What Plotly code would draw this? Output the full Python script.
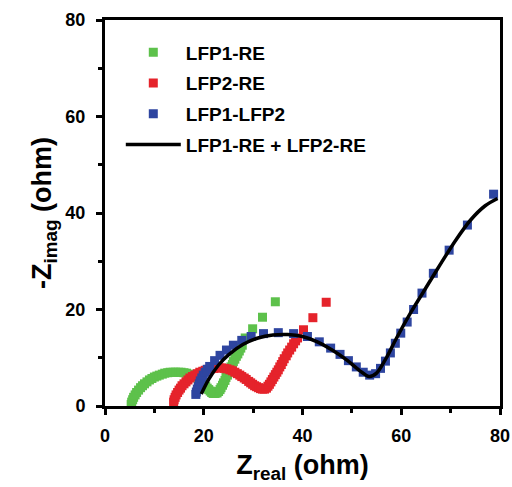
import plotly.graph_objects as go

# Nyquist data (ohm): real part and negative imaginary part
lfp1_re_x = [5.3, 5.4, 5.6, 5.8, 6.1, 6.4, 6.8, 7.2, 7.6, 8.0,
             8.5, 9.0, 9.5, 10.0, 10.5, 11.0, 11.6, 12.1, 12.7, 13.2,
             13.8, 14.3, 14.9, 15.4, 16.0, 16.5, 17.0, 17.5, 18.0, 18.5,
             18.9, 19.3, 19.7, 20.1, 20.4, 20.7, 21.0, 21.3, 21.6, 21.9,
             22.3, 22.7, 23.0, 23.3, 23.5, 23.8, 24.0, 24.3, 24.5, 24.8,
             25.0, 25.3, 25.5, 25.8, 26.0, 26.3, 26.6, 26.9, 27.2, 27.5,
             27.8, 28.4, 29.9, 31.9, 34.5]
lfp1_re_y = [0.3, 0.8, 1.3, 1.8, 2.3, 2.8, 3.3, 3.8, 4.2, 4.6,
             5.0, 5.4, 5.7, 6.0, 6.2, 6.4, 6.6, 6.8, 6.9, 7.0,
             7.0, 7.0, 7.0, 7.0, 6.9, 6.8, 6.6, 6.4, 6.2, 5.9,
             5.6, 5.3, 4.9, 4.5, 4.1, 3.7, 3.4, 3.1, 2.8, 2.6,
             2.6, 2.7, 3.0, 3.4, 3.8, 4.3, 4.8, 5.3, 5.9, 6.4,
             7.0, 7.5, 8.1, 8.6, 9.2, 9.7, 10.3, 10.8, 11.4, 12.0,
             12.6, 14.1, 16.0, 18.4, 21.6]

lfp2_re_x = [13.9, 14.0, 14.2, 14.4, 14.7, 15.0, 15.3, 15.6, 16.0, 16.4,
             16.8, 17.2, 17.7, 18.2, 18.7, 19.2, 19.8, 20.3, 20.9, 21.4,
             22.0, 22.5, 23.1, 23.6, 24.2, 24.7, 25.3, 25.8, 26.3, 26.8,
             27.3, 27.7, 28.2, 28.6, 29.1, 29.5, 29.9, 30.3, 30.7, 31.1,
             31.5, 31.9, 32.3, 32.7, 33.0, 33.3, 33.6, 33.9, 34.2, 34.5,
             34.8, 35.1, 35.4, 35.7, 36.0, 36.3, 36.7, 37.0, 37.4, 37.8,
             38.2, 38.6, 39.0, 40.2, 42.1, 44.8]
lfp2_re_y = [0.8, 1.3, 1.8, 2.3, 2.8, 3.3, 3.7, 4.2, 4.6, 5.0,
             5.4, 5.8, 6.1, 6.4, 6.7, 7.0, 7.2, 7.4, 7.6, 7.7,
             7.8, 7.9, 7.9, 7.9, 7.8, 7.7, 7.5, 7.3, 7.0, 6.7,
             6.4, 6.1, 5.8, 5.5, 5.1, 4.8, 4.5, 4.2, 4.0, 3.8,
             3.6, 3.5, 3.5, 3.7, 4.1, 4.5, 5.0, 5.5, 6.0, 6.5,
             7.0, 7.5, 8.1, 8.6, 9.2, 9.8, 10.4, 11.0, 11.6, 12.2,
             12.9, 13.5, 14.1, 15.8, 18.3, 21.5]

lfp1_lfp2_x = [18.4, 18.5, 18.7, 18.9, 19.1, 19.3, 19.6, 19.9, 20.3, 20.7, 21.2,
               22.2, 23.3, 24.6, 26.0, 27.7, 29.6, 32.1, 35.1, 38.2, 41.0,
               43.4, 45.7, 47.6, 49.3, 50.9, 52.3, 53.6, 54.8, 55.8, 56.8,
               57.8, 58.8, 59.9, 61.2, 62.5, 64.2, 66.5, 69.7, 73.4, 78.7]
lfp1_lfp2_y = [2.4, 2.9, 3.5, 4.0, 4.6, 5.2, 5.8, 6.4, 7.0, 7.6, 8.2,
               9.4, 10.5, 11.6, 12.6, 13.6, 14.4, 15.0, 15.2, 15.0, 14.4,
               13.3, 12.0, 10.7, 9.4, 8.1, 7.0, 6.4, 6.7, 7.8, 9.3,
               11.0, 13.0, 15.1, 17.4, 20.0, 23.4, 27.5, 32.3, 37.5, 43.9]

sum_x = [19.5, 21.0, 23.0, 25.0, 28.0, 31.0, 34.0, 37.0, 40.0, 43.0, 46.0, 49.0, 51.5,
         53.5, 55.0, 57.0, 59.0, 62.0, 65.0, 68.0, 71.0, 74.0, 77.0, 79.5]
sum_y = [2.5, 5.5, 8.5, 10.6, 12.8, 14.1, 14.7, 14.8, 14.4, 13.3, 11.6, 9.5, 7.4,
         6.1, 6.8, 10.0, 14.0, 19.5, 24.5, 29.5, 34.3, 38.5, 41.5, 43.0]

FONT = "Liberation Sans, Arial, sans-serif"

fig = go.Figure()

for name, xs, ys, color in [
    ("LFP1-RE", lfp1_re_x, lfp1_re_y, "#5DC14B"),
    ("LFP2-RE", lfp2_re_x, lfp2_re_y, "#E5232B"),
    ("LFP1-LFP2", lfp1_lfp2_x, lfp1_lfp2_y, "#2E45A0"),
]:
    fig.add_trace(go.Scatter(
        x=xs, y=ys, mode="markers", name=name, legendgroup=name,
        marker=dict(symbol="square", size=9, color=color, line=dict(width=0)),
    ))

fig.add_trace(go.Scatter(
    x=sum_x, y=sum_y, mode="lines", name="LFP1-RE + LFP2-RE", legendgroup="sum",
    line=dict(color="black", width=3.5, shape="spline", smoothing=0.8),
))

axis_common = dict(
    range=[0, 80], dtick=20, showgrid=False, zeroline=False,
    showline=True, linecolor="black", linewidth=3, mirror=True,
    ticks="outside", ticklen=6, tickwidth=3, tickcolor="black",
    minor=dict(ticks="outside", ticklen=4, tickwidth=3, tickcolor="black", dtick=10),
    tickfont=dict(family=FONT, size=18, color="black", weight="bold"),
    automargin=False,
)

fig.update_xaxes(**axis_common, ticklabelstandoff=5,
                 title=dict(text="Z<sub>real</sub> (ohm)", standoff=11,
                            font=dict(family=FONT, size=27, color="black", weight="bold")))
fig.update_yaxes(**axis_common, ticklabelstandoff=7,
                 title=dict(text="-Z<sub>imag</sub> (ohm)", standoff=6,
                            font=dict(family=FONT, size=27, color="black", weight="bold")))

fig.update_layout(
    width=512, height=487,
    margin=dict(l=105, r=12, t=20, b=81),
    paper_bgcolor="white", plot_bgcolor="white",
    showlegend=True,
    legend=dict(
        x=0.04, y=0.965, xanchor="left", yanchor="top",
        bgcolor="rgba(0,0,0,0)", borderwidth=0,
        font=dict(family=FONT, size=19, color="black", weight="bold"),
        itemwidth=55, tracegroupgap=3,
    ),
)

fig.write_html("out.html")
